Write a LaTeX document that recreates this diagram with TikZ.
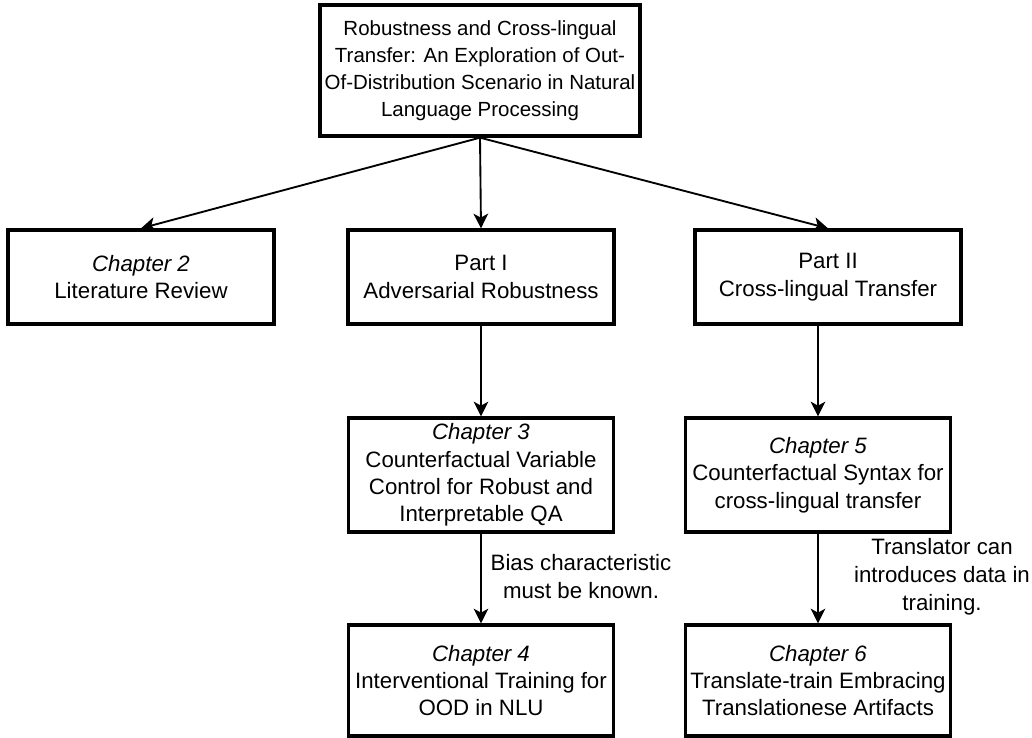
\documentclass[tikz,border=0pt]{standalone}
\usepackage{fontspec}
\setmainfont{Liberation Sans}
\usetikzlibrary{arrows.meta}
\begin{document}
\begin{tikzpicture}[x=0.75pt,y=-0.75pt,
  box/.style={draw,line width=2.5pt,align=center,inner sep=0pt,
    font=\fontsize{16.7}{20.5}\selectfont},
  titlebox/.style={box,font=\fontsize{15.35}{20.3}\selectfont},
  note/.style={align=center,inner sep=0pt,font=\fontsize{16.7}{21}\selectfont},
  link/.style={line width=1.4pt,-{Stealth[length=11pt,width=11pt,inset=3pt]}}]
\useasboundingbox (0,0) rectangle (1032,738);
% top: thesis title
\node[titlebox,minimum width=320*0.75pt,minimum height=131*0.75pt] (top) at (480,70.5)
  {Robustness and Cross-lingual\\Transfer: An Exploration of Out-\\Of-Distribution Scenario in Natural\\Language Processing};
% second row
\node[box,minimum width=266*0.75pt,minimum height=94*0.75pt] (lit) at (141,277)
  {\textit{Chapter 2}\\Literature Review};
\node[box,minimum width=266*0.75pt,minimum height=94*0.75pt] (p1) at (481,277)
  {Part I\\Adversarial Robustness};
\node[box,minimum width=266*0.75pt,minimum height=94*0.75pt] (p2) at (828,277)
  {Part II\\Cross-lingual Transfer};
% chapters
\node[box,minimum width=265*0.75pt,minimum height=114*0.75pt] (c3) at (481,475)
  {\textit{Chapter 3}\\Counterfactual Variable\\Control for Robust and\\Interpretable QA};
\node[box,minimum width=265*0.75pt,minimum height=114*0.75pt] (c5) at (818,475)
  {\textit{Chapter 5}\\Counterfactual Syntax for\\cross-lingual transfer};
\node[box,minimum width=265*0.75pt,minimum height=111*0.75pt] (c4) at (481,680.5)
  {\textit{Chapter 4}\\Interventional Training for\\OOD in NLU};
\node[box,minimum width=265*0.75pt,minimum height=111*0.75pt] (c6) at (818,680.5)
  {\textit{Chapter 6}\\Translate-train Embracing\\Translationese Artifacts};
% edge notes
\node[note] (n1) at (581,577) {Bias characteristic\\must be known.};
\node[note] (n2) at (942,577) {Translator can\\introduces data in\\training.};
% connectors
\draw[link] (top.south) -- (lit.north);
\draw[link] (top.south) -- (p1.north);
\draw[link] (top.south) -- (p2.north);
\draw[link] (p1.south) -- (c3.north);
\draw[link] (p2.south -| c5.north) -- (c5.north);
\draw[link] (c3.south) -- (c4.north);
\draw[link] (c5.south) -- (c6.north);
\end{tikzpicture}
\end{document}
